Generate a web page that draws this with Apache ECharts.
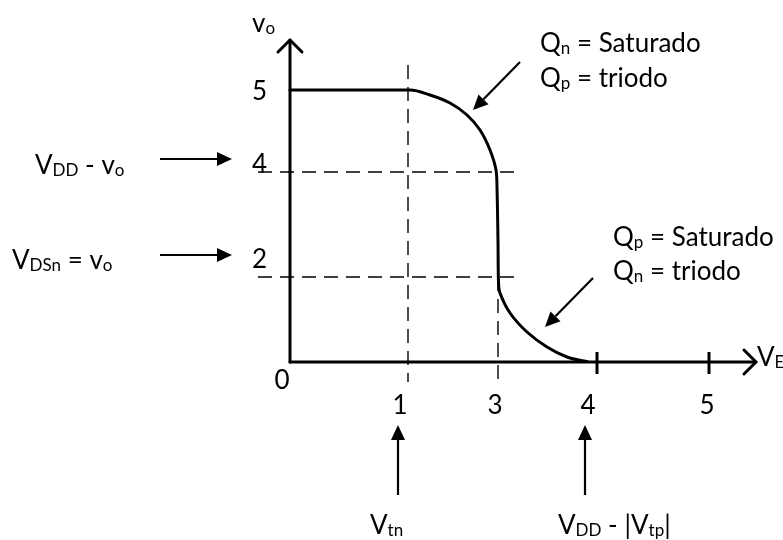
<!DOCTYPE html>
<html><head><meta charset="utf-8">
<script src="https://cdn.jsdelivr.net/npm/echarts@6/dist/echarts.min.js"></script>
<style>html,body{margin:0;padding:0;background:#fff}#c{width:783px;height:540px}</style>
</head><body><div id="c"></div>
<script>
// Schematic units (the original axes are not to scale): origin at the axis crossing.
const xRange = [-4.0, 46.6];
const yRange = [-3.0, 32.2];
const xAxisEnd = 46.6, yAxisEnd = 32.2;
// transfer curve v_o(V_E)
const curveX = [0, 12, 14, 16, 17.7, 19, 20, 20.6, 20.7, 20.8, 20.85, 21.0, 22.0, 23.7, 25.7, 27.7, 29.7];
const curveY = [27.2, 27.2, 26.7, 25.9, 24.7, 23.2, 21.2, 19.2, 17.5, 12.0, 8.0, 6.9, 4.9, 3.0, 1.5, 0.5, 0.05];
// tick labels
const xLabelPos = [11.0, 20.5, 29.8, 41.7];
const xLabelText = ['1', '3', '4', '5'];
const yLabelPos = [27.0, 19.7, 10.2];
const yLabelText = ['5', '4', '2'];
// dashed guides
const hGuideY = [19.0, 8.5];
const hGuideFrom = -3.2, hGuideTo = 22.5;
const vGuideX = [11.8, 20.8];
const vGuideTop = [29.7, 8.5];
const vGuideBottom = [-2.0, -2.3];
// thick ticks on the V_E axis
const xTickX = [30.7, 41.9];
const xTickSpan = [1.0, -1.2];
// arrow heads of the axes
const arrowSize = 1.2;

const FONT = 'Lato';
const FS = 26;
const rich = {
  n: {fontSize: FS, fontFamily: FONT, lineHeight: 32, fill: '#000', color: '#000'},
  s: {fontSize: 17, fontFamily: FONT, lineHeight: 17, verticalAlign: 'bottom', fill: '#000', color: '#000', padding: [0, 0, 3, 0]}
};
function T(parts) { return parts.map(p => '{' + (p[1] ? 's' : 'n') + '|' + p[0] + '}').join(''); }
function text(x, y, parts, align) {
  return {type: 'text', x: x, y: y, style: {text: T(parts), rich: rich, align: align || 'left', verticalAlign: 'middle'}};
}
function arrow(x1, y1, x2, y2) {
  const L = 15, W = 7;
  const dx = x2 - x1, dy = y2 - y1, d = Math.hypot(dx, dy);
  const ux = dx / d, uy = dy / d;
  const bx = x2 - ux * L, by = y2 - uy * L;
  return [
    {type: 'line', shape: {x1: x1, y1: y1, x2: bx, y2: by}, style: {stroke: '#000', lineWidth: 2.2}},
    {type: 'polygon', shape: {points: [[x2, y2], [bx - uy * W, by + ux * W], [bx + uy * W, by - ux * W]]}, style: {fill: '#000'}}
  ];
}

const seg = (pts, style) => ({
  type: 'line', data: pts, symbol: 'none', clip: false, silent: true, animation: false,
  lineStyle: Object.assign({color: '#000', width: 3, cap: 'round', join: 'round'}, style || {})
});

const series = [];
// axes
series.push(seg([[0, 0], [0, yAxisEnd]]));
series.push(seg([[0, 0], [xAxisEnd, 0]]));
series.push(seg([[-arrowSize, yAxisEnd - arrowSize], [0, yAxisEnd], [arrowSize, yAxisEnd - arrowSize]]));
series.push(seg([[xAxisEnd - arrowSize, arrowSize], [xAxisEnd, 0], [xAxisEnd - arrowSize, -arrowSize]]));
// dashed guides
hGuideY.forEach(y => series.push(seg([[hGuideFrom, y], [hGuideTo, y]], {width: 1.4, type: [14, 8], cap: 'butt'})));
vGuideX.forEach((x, i) => series.push(seg([[x, vGuideTop[i]], [x, vGuideBottom[i]]], {width: 1.4, type: [14, 8], cap: 'butt'})));
// ticks
xTickX.forEach(x => series.push(seg([[x, xTickSpan[0]], [x, xTickSpan[1]]], {width: 3, cap: 'butt'})));
// curve
series.push(Object.assign(seg(curveX.map((x, i) => [x, curveY[i]]), {width: 3}), {smooth: 0.35}));

const graphic = [].concat(
  [
    text(252, 24, [['v'], ['o', 1]]),
    text(282, 381, [['0']], 'center'),
    text(757, 358, [['V'], ['E', 1]]),
    text(35, 166, [['V'], ['DD', 1], [' - v'], ['o', 1]]),
    text(12, 261, [['V'], ['DSn', 1], [' = v'], ['o', 1]]),
    text(540, 44, [['Q'], ['n', 1], [' = Saturado']]),
    text(540, 79, [['Q'], ['p', 1], [' = triodo']]),
    text(613, 238, [['Q'], ['p', 1], [' = Saturado']]),
    text(613, 272, [['Q'], ['n', 1], [' = triodo']]),
    text(370, 526, [['V'], ['tn', 1]]),
    text(558, 526, [['V'], ['DD', 1], [' - |V'], ['tp', 1], ['|']])
  ],
  arrow(520, 62, 473, 110),
  arrow(593, 278, 545, 327),
  arrow(160, 159, 232, 159),
  arrow(160, 255, 232, 255),
  arrow(398, 495, 398, 425),
  arrow(585, 495, 585, 425)
);

const chart = echarts.init(document.getElementById('c'), null, {renderer: 'canvas'});
chart.setOption({
  backgroundColor: '#fff',
  animation: false,
  grid: {left: 250, top: 40, width: 506, height: 352},
  xAxis: {
    type: 'value', min: xRange[0], max: xRange[1],
    axisLine: {show: false, onZero: false}, axisTick: {show: false}, splitLine: {show: false},
    axisLabel: {
      customValues: xLabelPos, margin: 1, color: '#000', fontSize: FS, fontFamily: FONT,
      formatter: v => { const i = xLabelPos.findIndex(p => Math.abs(p - v) < 1e-6); return i >= 0 ? xLabelText[i] : ''; }
    }
  },
  yAxis: {
    type: 'value', min: yRange[0], max: yRange[1],
    axisLine: {show: false, onZero: false}, axisTick: {show: false}, splitLine: {show: false},
    axisLabel: {
      customValues: yLabelPos, inside: true, margin: 2, color: '#000', fontSize: FS, fontFamily: FONT,
      formatter: v => { const i = yLabelPos.findIndex(p => Math.abs(p - v) < 1e-6); return i >= 0 ? yLabelText[i] : ''; }
    }
  },
  series: series,
  graphic: graphic
});
</script></body></html>
